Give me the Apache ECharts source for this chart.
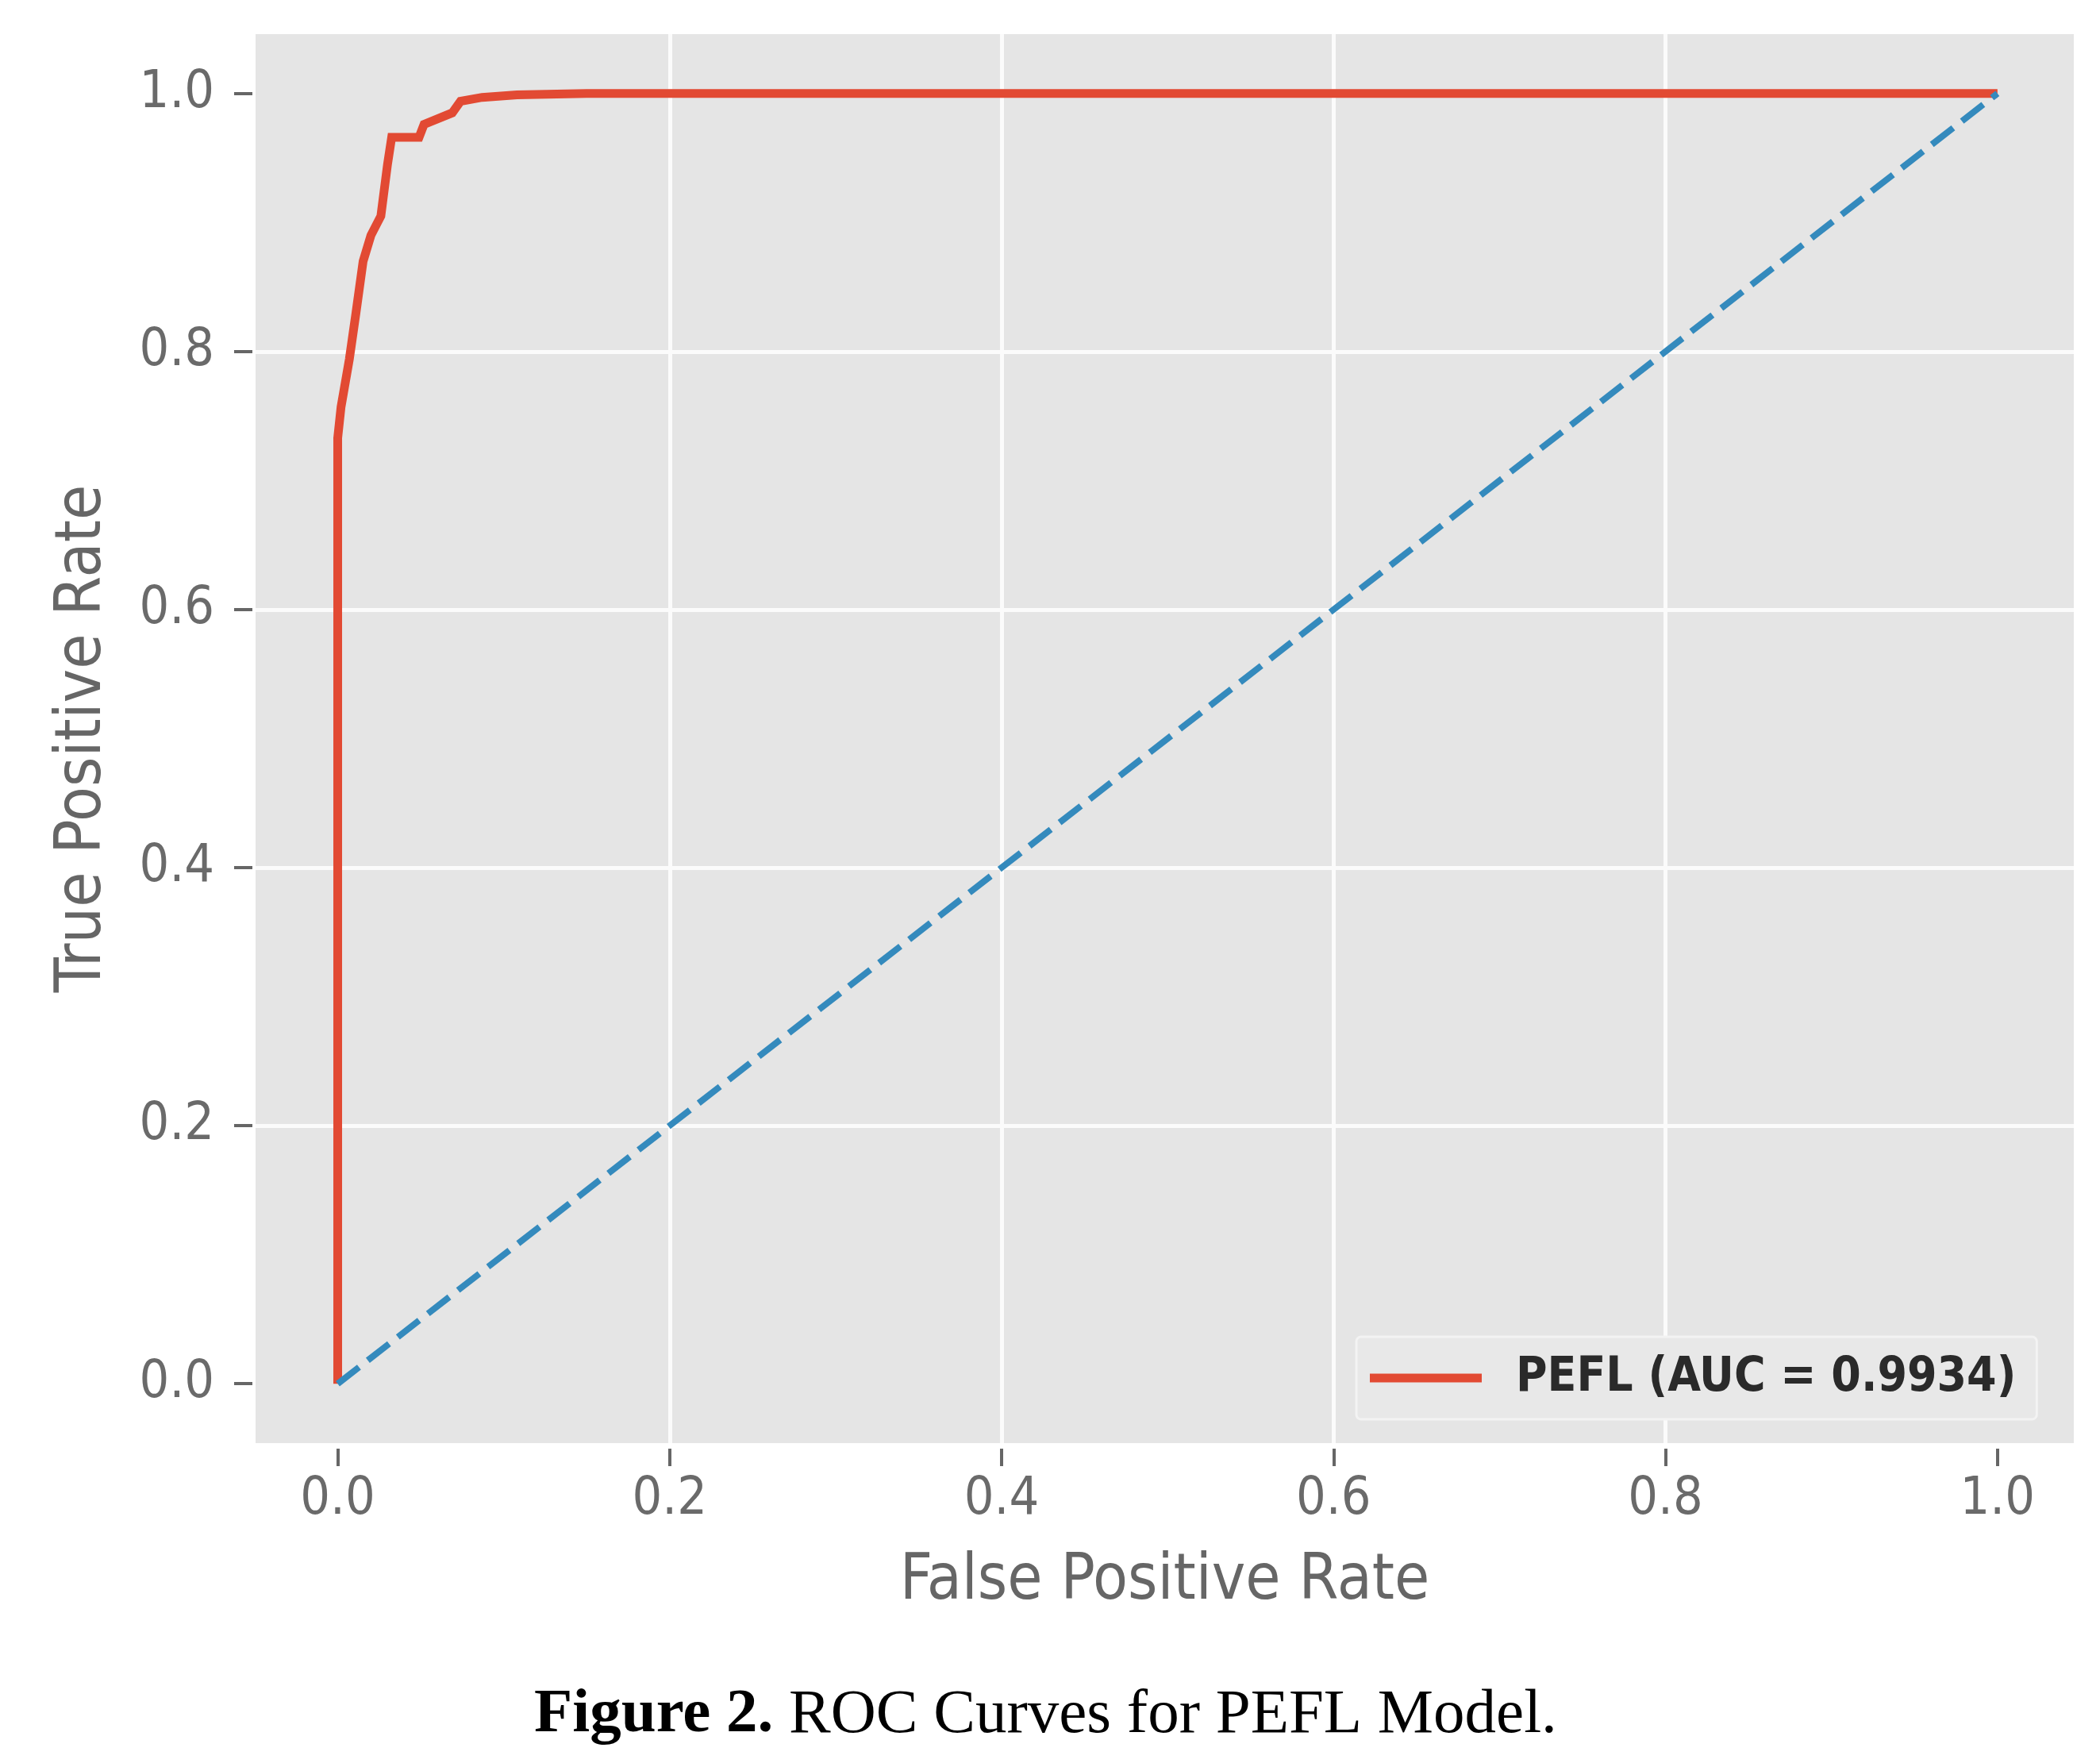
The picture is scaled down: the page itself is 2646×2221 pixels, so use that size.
<!DOCTYPE html>
<html>
<head>
<meta charset="utf-8">
<title>ROC Curves for PEFL Model</title>
<script src="https://cdn.jsdelivr.net/npm/echarts@6/dist/echarts.min.js"></script>
<style>
  html, body { margin: 0; padding: 0; background: #ffffff; }
  #main { width: 2646px; height: 2221px; }
</style>
</head>
<body>
<div id="main"></div>
<script>
// ROC curve
const fpr = [0, 0, 0.002, 0.007, 0.011, 0.0153, 0.020, 0.026, 0.030, 0.0325, 0.049, 0.052, 0.069, 0.074, 0.087, 0.108, 0.15, 1];
const tpr = [0, 0.733, 0.757, 0.794, 0.83, 0.870, 0.890, 0.905, 0.945, 0.966, 0.966, 0.976, 0.985, 0.994, 0.997, 0.999, 1.0, 1.0];
// chance diagonal
const chanceX = [0, 1];
const chanceY = [0, 1];

const tickValues = [0, 0.2, 0.4, 0.6, 0.8, 1.0];
const seriesName = 'PEFL (AUC = 0.9934)';
const xName = 'False Positive Rate';
const yName = 'True Positive Rate';
const captionBold = 'Figure 2.';
const captionRest = 'ROC Curves for PEFL Model.';

const zip = (a, b) => a.map((v, i) => [v, b[i]]);

const myChart = echarts.init(document.getElementById('main'));

const labelFont = 'DejaVu Sans Condensed, DejaVu Sans, sans-serif';

// matplotlib ggplot look: grey panel, white grid, ticks just outside
const axisCommon = {
  type: 'value',
  axisLine: { show: false, onZero: false },
  axisTick: {
    show: true,
    customValues: tickValues,
    lineStyle: { color: '#666666', width: 4 }
  },
  axisLabel: {
    customValues: tickValues,
    color: '#6a6a6a',
    fontFamily: labelFont,
    fontSize: 66,
    formatter: v => v.toFixed(1)
  },
  splitLine: {
    show: true,
    showMinLine: false,
    showMaxLine: false,
    lineStyle: { color: '#fbfbfb', width: 5 }
  },
  nameLocation: 'middle',
  nameTextStyle: {
    color: '#666666',
    fontFamily: labelFont,
    fontSize: 80
  }
};

const option = {
  animation: false,
  backgroundColor: '#ffffff',
  title: {
    text: '{b|' + captionBold + '}{r| ' + captionRest + '}',
    left: 668,
    top: 2111,
    textStyle: {
      fontWeight: 'normal',
      rich: {
        b: { fontFamily: 'Liberation Serif', fontWeight: 'bold', fontSize: 79, color: '#000', lineHeight: 90 },
        r: { fontFamily: 'Liberation Serif', fontWeight: 'normal', fontSize: 79, color: '#000', lineHeight: 90 }
      }
    }
  },
  grid: {
    left: 322,
    top: 43,
    width: 2291,
    height: 1775,
    show: true,
    backgroundColor: '#e5e5e5',
    borderWidth: 0
  },
  xAxis: Object.assign({}, axisCommon, {
    min: -0.0495,
    max: 1.046,
    offset: 7,
    name: xName,
    nameGap: 128,
    axisTick: Object.assign({}, axisCommon.axisTick, { length: 22 }),
    axisLabel: Object.assign({}, axisCommon.axisLabel, { margin: 32 })
  }),
  yAxis: Object.assign({}, axisCommon, {
    min: -0.046,
    max: 1.046,
    offset: 4,
    name: yName,
    nameGap: 173,
    axisTick: Object.assign({}, axisCommon.axisTick, { length: 23 }),
    axisLabel: Object.assign({}, axisCommon.axisLabel, { margin: 48 })
  }),
  legend: {
    left: 1709,
    top: 1684,
    orient: 'vertical',
    padding: [22, 26, 22, 17],
    backgroundColor: '#e8e8e8',
    borderColor: '#f3f3f3',
    borderWidth: 3,
    borderRadius: 6,
    itemWidth: 141,
    itemHeight: 11,
    textStyle: {
      color: '#2a2a2a',
      fontFamily: labelFont,
      fontWeight: 'bold',
      fontSize: 60,
      padding: [0, 0, 0, 38]
    },
    data: [{ name: seriesName, icon: 'rect' }]
  },
  series: [
    {
      name: seriesName,
      type: 'line',
      data: zip(fpr, tpr),
      showSymbol: false,
      clip: false,
      lineStyle: { color: '#E24A33', width: 11, join: 'miter' },
      itemStyle: { color: '#E24A33' }
    },
    {
      name: 'chance',
      type: 'line',
      data: zip(chanceX, chanceY),
      showSymbol: false,
      clip: false,
      lineStyle: { color: '#348ABD', width: 8, type: [34, 14] },
      itemStyle: { color: '#348ABD' }
    }
  ]
};

myChart.setOption(option);
</script>
</body>
</html>
